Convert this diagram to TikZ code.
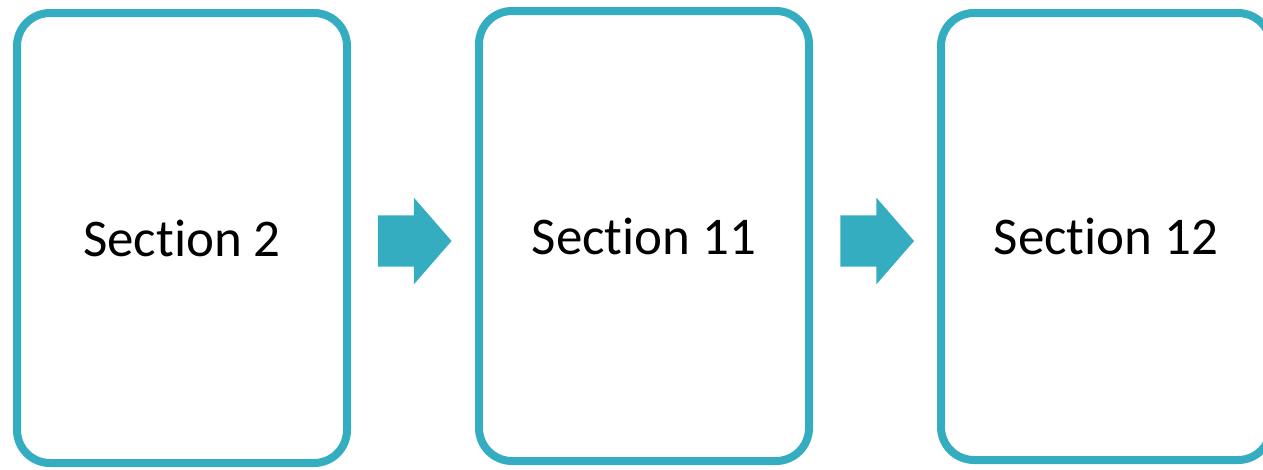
\documentclass[tikz,border=0pt]{standalone}
\usepackage{fontspec}
\setmainfont[Ligatures=NoCommon]{Carlito}
\usetikzlibrary{shapes.arrows}
\definecolor{tuerkis}{RGB}{53,173,193}
\begin{document}
\begin{tikzpicture}[x=1pt, y=-1pt,
  kasten/.style={draw=tuerkis, line width=8pt, rounded corners=33pt,
    minimum width=330pt, minimum height=450pt, inner sep=0pt, outer sep=0pt,
    font=\fontsize{53}{58}\selectfont},
  pfeil/.style={single arrow, fill=tuerkis, draw=none, inner sep=25.5pt,
    minimum height=73pt, single arrow head extend=17.5pt,
    single arrow tip angle=98, outer sep=0pt}]
\useasboundingbox (0,0) rectangle (1263,469);
%Kaesten
\node[kasten] (s2) at (182,238) {Section 2};
\node[kasten] (s11) at (644,236) {Section 11};
\node[kasten, minimum height=447pt] (s12) at (1106,236.5) {Section 12};
%Pfeile
\node[pfeil] (p1) at (403.5,241) {};
\node[pfeil] (p2) at (866,241) {};
\end{tikzpicture}
\end{document}
